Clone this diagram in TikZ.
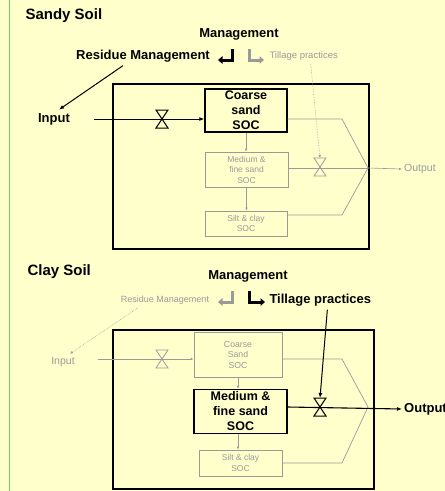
\documentclass[tikz,border=0pt]{standalone}
\usepackage{fontspec}
\setmainfont{Liberation Sans}
\usetikzlibrary{arrows.meta}
\definecolor{paper}{HTML}{FFFFCC}
\definecolor{fade}{HTML}{9A9A9A}
\definecolor{rule}{HTML}{77CC66}
\tikzset{
  valve/.pic={\draw (-6,-9) -- (6,-9) -- (-6,9) -- (6,9) -- cycle; \coordinate (-top) at (0,-9);},
  pool/.style={draw,inner sep=0pt,align=center},
  hot/.style={font=\bfseries\fontsize{13}{15}\selectfont},
  cold/.style={text=fade,font=\fontsize{9.5}{11}\selectfont},
  hotpool/.style={pool,line width=1.3pt,font=\bfseries\fontsize{12.5}{15}\selectfont},
  coldpool/.style={pool,draw=fade,text=fade,line width=.7pt,font=\fontsize{8.5}{10.5}\selectfont},
  turn/.style={line width=3pt,-{Triangle[length=4.5pt,width=7.5pt]}},
  tiny/.style={fade,line width=.6pt,-{Latex[length=3pt,width=2.5pt]}},
}

\begin{document}
\begin{tikzpicture}[x=1pt,y=-1pt,>={Latex[length=5pt,width=4pt]}]
	\fill[paper] (0,0) rectangle (445,491);
	\useasboundingbox (0,0) rectangle (445,491);
	\draw[rule,line width=1.5pt] (9.5,0) -- (9.5,491);

	% sandy soil
	\node[anchor=west,font=\bfseries\fontsize{15}{18}\selectfont] (sTitle) at (22,16) {Sandy Soil};
	\node[hot] (sMan) at (239,34) {Management};
	\node[hot] (sRes) at (143,56) {Residue Management};
	\node[cold,anchor=west] (sTill) at (266,56) {Tillage practices};
	\draw[turn] (232,49) -- (232,60) -- (218,60);
	\draw[turn,fade] (249,49) -- (249,60) -- (264,60);
	\node[hot] (sIn) at (54,119) {Input};
	\draw[line width=1.1pt] (113,84) rectangle (369,249);
	\node[hotpool,minimum width=82,minimum height=43] (sCoarse) at (246,110.5) {Coarse\\sand\\SOC};
	\node[coldpool,minimum width=83,minimum height=35] (sMid) at (246.5,169.5) {Medium \&\\fine sand\\SOC};
	\node[coldpool,minimum width=82,minimum height=25] (sSilt) at (246,223.5) {Silt \& clay\\SOC};
	\coordinate (sJoin) at (368,168);
	\node[text=fade,font=\fontsize{10.5}{12}\selectfont,anchor=west,inner sep=2pt] (sOut) at (402,169) {Output};
	\pic[line width=1pt] (sV1) at (162,119) {valve};
	\pic[fade,line width=.8pt] (sV2) at (320,167) {valve};
	\draw[->,line width=1pt] ([xshift=-20]sRes.south) -- ([xshift=5]sIn.north);
	\draw[->,line width=1pt,shorten <=21pt] (sIn.east |- 0,119) -- (sCoarse.west |- 0,119);
	\draw[tiny] (sCoarse.south) -- (sMid.north -| sCoarse.south);
	\draw[tiny] (sMid.south) -- (sSilt.north -| sMid.south);
	\draw[fade,line width=.7pt] (sCoarse.east |- 0,119) -- (342,119) -- (sJoin);
	\draw[fade,line width=.7pt] (sSilt.east |- 0,215) -- (342,215) -- (sJoin);
	\draw[fade,line width=.7pt] (sMid.east |- sJoin) -- (sJoin);
	\draw[tiny] (sJoin) -- (sOut.west);
	\draw[tiny,densely dotted,line width=.5pt] ([xshift=7]sTill.south) -- (sV2-top);

	% clay soil
	\node[anchor=west,font=\bfseries\fontsize{15}{18}\selectfont] (cTitle) at (24,272) {Clay Soil};
	\node[hot] (cMan) at (248,276) {Management};
	\node[cold,font=\fontsize{9}{11}\selectfont] (cRes) at (165,300) {Residue Management};
	\node[hot,anchor=west] (cTill) at (266,300) {Tillage practices};
	\draw[turn,fade] (232,291) -- (232,302) -- (218,302);
	\draw[turn] (249,291) -- (249,302) -- (265,302);
	\node[text=fade,font=\fontsize{10.5}{12}\selectfont] (cIn) at (63,362) {Input};
	\draw[line width=1.1pt] (113,330) rectangle (374,489);
	\node[coldpool,font=\fontsize{8.7}{10.5}\selectfont,minimum width=88,minimum height=45] (cCoarse) at (238,354.5) {Coarse\\Sand\\SOC};
	\node[hotpool,minimum width=93,minimum height=44] (cMid) at (240.5,411.5) {Medium \&\\fine sand\\SOC};
	\node[coldpool,minimum width=83,minimum height=26] (cSilt) at (240.5,463) {Silt \& clay\\SOC};
	\coordinate (cJoin) at (368,407);
	\node[hot,anchor=west,inner sep=2pt] (cOut) at (402,409) {Output};
	\pic[fade,line width=.8pt] (cV1) at (162,359) {valve};
	\pic[line width=1pt] (cV2) at (320,407) {valve};
	\draw[tiny,densely dotted,line width=.5pt] ([xshift=-27]cRes.south) -- ([xshift=7]cIn.north);
	\draw[tiny,shorten <=20pt] (cIn.east |- 0,359) -- (cCoarse.west |- 0,359);
	\draw[tiny] (cCoarse.south) -- (cMid.north -| cCoarse.south);
	\draw[tiny] (cMid.south -| cCoarse.south) -- (cSilt.north -| cCoarse.south);
	\draw[fade,line width=.7pt] (cCoarse.east |- 0,359) -- (342,359) -- (cJoin);
	\draw[fade,line width=.7pt] (cSilt.east |- 0,463) -- (342,463) -- (cJoin);
	\draw[->,line width=1.1pt] (cMid.east |- cJoin) -- (cOut.west);
	\draw[->,line width=1pt] ([xshift=7]cTill.south) -- (cV2-top);
\end{tikzpicture}
\end{document}
